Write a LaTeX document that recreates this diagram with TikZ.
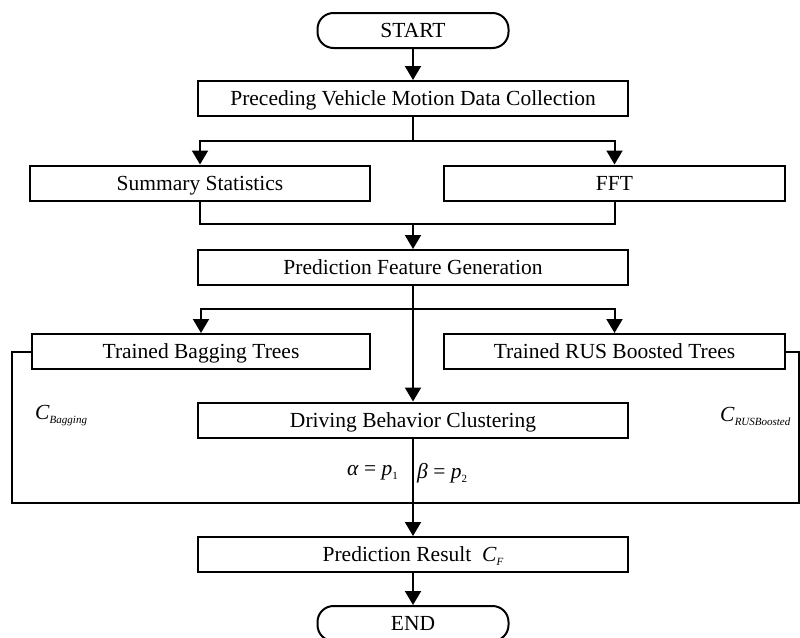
\documentclass[tikz,border=0pt]{standalone}
\usepackage{fontspec}
\setmainfont{Liberation Serif}
\usetikzlibrary{arrows.meta}
\newcommand{\lowsub}[1]{\raisebox{-0.4ex}{\fontsize{11}{12}\selectfont #1}}
\begin{document}
\begin{tikzpicture}[x=1pt,y=-1pt,
  box/.style={draw, line width=2pt, minimum height=35pt, inner sep=0pt, text height=16pt, text depth=2pt, font=\fontsize{21.5}{25}\selectfont},
  term/.style={box, rounded corners=16pt},
  conn/.style={line width=2pt},
  arr/.style={conn, -{Triangle[length=14pt,width=16pt]}},
  lab/.style={inner sep=0pt, font=\fontsize{21.5}{25}\selectfont}]
\useasboundingbox (0,0) rectangle (800,637);
\node[term, minimum width=191pt] (start) at (413,30.5) {START};
\node[box, minimum width=430pt] (pre) at (413,98.5) {Preceding Vehicle Motion Data Collection};
\node[box, minimum width=340pt] (sum) at (200,183) {Summary Statistics};
\node[box, minimum width=341pt] (fft) at (614.5,183) {FFT};
\node[box, minimum width=430pt] (pfg) at (413,267.5) {Prediction Feature Generation};
\node[box, minimum width=338pt] (bag) at (201,351.5) {Trained Bagging Trees};
\node[box, minimum width=341pt] (rus) at (614.5,351.5) {Trained RUS Boosted Trees};
\node[box, minimum width=430pt] (dbc) at (413,420) {Driving Behavior Clustering};
\node[box, minimum width=430pt] (res) at (413,554.5) {Prediction Result\enspace\textit{C}\lowsub{\textit{F}}};
\node[term, minimum width=191pt] (end) at (413,623.5) {END};
% labels
\node[lab, anchor=west] (cb) at (35,416) {\textit{C}\lowsub{\textit{Bagging}}};
\node[lab, anchor=west] (cr) at (720,416) {\textit{C}\lowsub{\textit{RUSBoosted}}};
\node[lab, anchor=east] (al) at (398,473) {\textit{α} = \textit{p}\lowsub{1}};
\node[lab, anchor=west] (be) at (417,473) {\textit{β} = \textit{p}\lowsub{2}};
% coordinates
\coordinate (s1) at (413,141);
\coordinate (m1) at (413,224);
\coordinate (s2) at (413,309);
\coordinate (fl) at (12,503);
\coordinate (fr) at (799,503);
% connectors
\draw[arr] (start.south) -- (pre.north);
\draw[conn] (pre.south) -- (s1);
\draw[arr] (s1) -| (sum.north);
\draw[arr] (s1) -| (fft.north);
\draw[conn] (sum.south) |- (m1);
\draw[conn] (fft.south) |- (m1);
\draw[arr] (m1) -- (pfg.north);
\draw[arr] (pfg.south) -- (dbc.north);
\draw[arr] (s2) -| (bag.north);
\draw[arr] (s2) -| (rus.north);
\draw[conn] (bag.west) -| (fl) -- (fr) |- (rus.east);
\draw[arr] (dbc.south) -- (res.north);
\draw[arr] (res.south) -- (end.north);
\end{tikzpicture}
\end{document}
